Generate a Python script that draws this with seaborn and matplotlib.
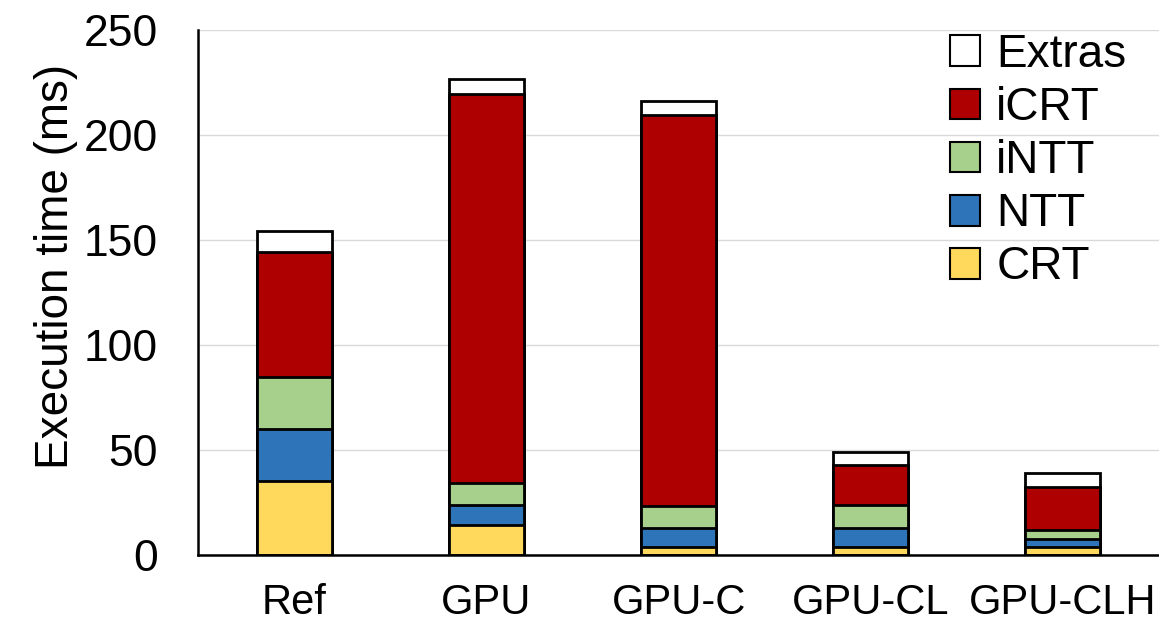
import numpy as np
import pandas as pd
import matplotlib
matplotlib.use("Agg")
import matplotlib.pyplot as plt
from matplotlib.patches import Patch
import seaborn as sns

categories = ["Ref", "GPU", "GPU-C", "GPU-CL", "GPU-CLH"]
crt = [35.4, 14.3, 4.0, 4.0, 4.0]
ntt = [24.7, 9.5, 8.7, 9.0, 3.5]
intt = [24.8, 10.6, 10.6, 10.8, 4.4]
icrt = [59.2, 185.4, 186.2, 19.1, 20.3]
extras = [10.3, 6.9, 6.8, 6.3, 6.7]

series_names = ["CRT", "NTT", "iNTT", "iCRT", "Extras"]
series_vals = [crt, ntt, intt, icrt, extras]
colors = {"CRT": "#FFD95C", "NTT": "#2E74B8", "iNTT": "#A8D08D",
          "iCRT": "#AE0000", "Extras": "#FFFFFF"}

sns.set_theme(style="white")
plt.rcParams["font.family"] = ["Liberation Sans", "DejaVu Sans"]
plt.rcParams["text.color"] = "black"
plt.rcParams["axes.labelcolor"] = "black"
plt.rcParams["xtick.color"] = "black"
plt.rcParams["ytick.color"] = "black"

fig = plt.figure(figsize=(11.59, 6.43), dpi=100)
ax = fig.add_axes([0.171, 0.137, 0.829, 0.816])

cum = np.cumsum(np.array(series_vals), axis=0)
# draw from the tallest cumulative down so stacks overlap properly
for i in range(len(series_names) - 1, -1, -1):
    name = series_names[i]
    df = pd.DataFrame({"cat": categories, "val": cum[i]})
    sns.barplot(data=df, x="cat", y="val", color=colors[name], width=0.39,
                edgecolor="black", linewidth=2, saturation=1, ax=ax, zorder=3)

ax.set_xlim(-0.5, 4.5)
ax.set_ylim(0, 250)
ax.set_yticks([0, 50, 100, 150, 200, 250])
ax.yaxis.grid(True, color="#D9D9D9", linewidth=1)
ax.set_axisbelow(True)
for s in ["top", "right"]:
    ax.spines[s].set_visible(False)
for s in ["left", "bottom"]:
    ax.spines[s].set_color("black")
    ax.spines[s].set_linewidth(1.8)
ax.spines["left"].set_zorder(5)
ax.spines["bottom"].set_zorder(5)
ax.tick_params(axis="y", labelsize=32, length=0, pad=29)
ax.tick_params(axis="x", labelsize=30, length=0, pad=20)
ax.set_xlabel("")
ax.set_ylabel("Execution time (ms)", fontsize=33)
ax.yaxis.set_label_coords(-0.125, 0.55)

handles = [Patch(facecolor=colors[n], edgecolor="black", linewidth=1.5, label=n)
           for n in series_names[::-1]]
ax.legend(handles=handles, loc="upper right", frameon=False, fontsize=33,
          handlelength=0.65, handleheight=0.65, handletextpad=0.35,
          labelspacing=0.2, borderaxespad=0.0, bbox_to_anchor=(0.985, 1.03))

fig.savefig("out.png", dpi=100)
